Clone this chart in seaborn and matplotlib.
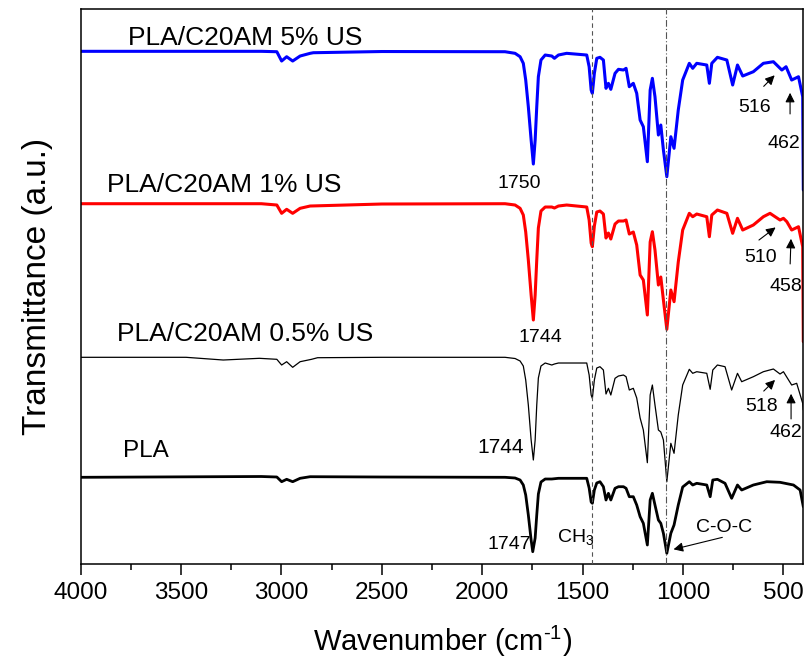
import numpy as np
import pandas as pd
import matplotlib
matplotlib.use("Agg")
import matplotlib.pyplot as plt
import seaborn as sns

# ---- data (wavenumber cm-1, transmittance a.u., spectra already offset) ----
wn_us5 = [4000, 3100, 3023, 2999, 2974, 2944, 2907, 2857, 2841, 2500, 1886, 1836, 1811, 1795,
          1783, 1770, 1756, 1745, 1736, 1728, 1720, 1707, 1686, 1653, 1640, 1620, 1579, 1479,
          1467, 1457, 1451, 1441, 1429, 1413, 1396, 1383, 1371, 1359, 1338, 1321, 1296, 1283,
          1267, 1247, 1230, 1213, 1197, 1177, 1163, 1152, 1139, 1122, 1110, 1097, 1080, 1060,
          1044, 1023, 1001, 968, 951, 931, 881, 868, 856, 828, 781, 752, 728, 702, 649, 599,
          549, 507, 486, 458, 424, 403, 400]
t_us5 = [5.487, 5.487, 5.483, 5.39, 5.433, 5.39, 5.44, 5.467, 5.473, 5.485, 5.483, 5.467, 5.433, 5.367,
         5.20, 4.933, 4.60, 4.36, 4.60, 4.933, 5.233, 5.40, 5.45, 5.44, 5.417, 5.45, 5.467, 5.45,
         5.333, 5.10, 5.067, 5.267, 5.417, 5.427, 5.40, 5.117, 5.167, 5.107, 5.267, 5.307, 5.30, 5.317,
         5.133, 5.167, 5.067, 4.80, 4.733, 4.383, 5.10, 5.217, 5.033, 4.65, 4.75, 4.50, 4.233, 4.633,
         4.517, 4.90, 5.20, 5.367, 5.317, 5.367, 5.35, 5.167, 5.367, 5.427, 5.40, 5.15, 5.35, 5.24,
         5.283, 5.367, 5.383, 5.30, 5.333, 5.20, 5.233, 5.033, 4.10]

wn_us1 = [4000, 3100, 3023, 2999, 2974, 2944, 2907, 2857, 2500, 1886, 1836, 1811, 1795, 1783,
          1770, 1756, 1745, 1736, 1728, 1720, 1707, 1686, 1653, 1640, 1620, 1579, 1479, 1467,
          1457, 1451, 1441, 1429, 1413, 1396, 1383, 1371, 1359, 1338, 1321, 1296, 1283, 1267,
          1247, 1230, 1213, 1197, 1177, 1163, 1152, 1139, 1122, 1110, 1097, 1080, 1060, 1044,
          1023, 1001, 968, 951, 931, 881, 868, 856, 828, 781, 752, 728, 702, 649, 599, 566,
          516, 499, 482, 458, 424, 403, 400]
t_us1 = [3.963, 3.963, 3.95, 3.867, 3.907, 3.867, 3.917, 3.94, 3.96, 3.963, 3.95, 3.917, 3.85, 3.68,
         3.40, 3.05, 2.80, 3.05, 3.40, 3.72, 3.89, 3.93, 3.93, 3.92, 3.94, 3.95, 3.93, 3.80,
         3.57, 3.533, 3.74, 3.88, 3.89, 3.86, 3.62, 3.67, 3.61, 3.76, 3.79, 3.79, 3.80, 3.66,
         3.68, 3.55, 3.25, 3.20, 2.85, 3.58, 3.683, 3.50, 3.15, 3.23, 3.00, 2.707, 3.10, 2.983,
         3.38, 3.70, 3.867, 3.833, 3.86, 3.833, 3.633, 3.85, 3.90, 3.867, 3.667, 3.817, 3.70, 3.75,
         3.833, 3.867, 3.80, 3.817, 3.783, 3.70, 3.733, 3.533, 2.583]

wn_us05 = [4000, 3475, 3290, 3110, 3023, 2999, 2974, 2944, 2907, 2850, 2820, 2500, 1886, 1836,
           1811, 1795, 1783, 1770, 1756, 1745, 1736, 1728, 1720, 1707, 1686, 1653, 1640, 1620,
           1579, 1479, 1467, 1457, 1451, 1441, 1429, 1413, 1396, 1383, 1371, 1359, 1338, 1321,
           1296, 1283, 1267, 1247, 1230, 1213, 1197, 1177, 1163, 1152, 1139, 1122, 1110, 1097,
           1080, 1060, 1044, 1023, 1001, 968, 951, 931, 881, 864, 851, 828, 790, 757, 728, 707,
           649, 599, 549, 516, 499, 458, 433, 403, 400]
t_us05 = [2.427, 2.427, 2.40, 2.417, 2.407, 2.35, 2.383, 2.327, 2.383, 2.407, 2.423, 2.427, 2.427, 2.415,
          2.39, 2.34, 2.20, 1.95, 1.60, 1.40, 1.60, 1.95, 2.22, 2.34, 2.37, 2.35, 2.36, 2.37,
          2.37, 2.37, 2.25, 2.05, 2.017, 2.20, 2.32, 2.333, 2.30, 2.06, 2.117, 2.05, 2.217, 2.24,
          2.25, 2.233, 2.10, 2.117, 2.02, 1.82, 1.70, 1.373, 2.05, 2.15, 1.95, 1.70, 1.68, 1.60,
          1.183, 1.567, 1.467, 1.85, 2.15, 2.307, 2.267, 2.283, 2.267, 2.107, 2.30, 2.35, 2.333, 2.10, 2.267, 2.183,
          2.233, 2.283, 2.31, 2.26, 2.283, 2.15, 2.167, 1.967, 1.90]

wn_pla = [4000, 3100, 3023, 2999, 2974, 2944, 2907, 2857, 2500, 1886, 1836, 1811, 1795, 1783,
          1770, 1756, 1748, 1736, 1728, 1720, 1707, 1686, 1653, 1620, 1479, 1467, 1457, 1451,
          1441, 1429, 1413, 1396, 1383, 1371, 1359, 1338, 1321, 1296, 1283, 1267, 1247, 1230,
          1213, 1197, 1177, 1163, 1152, 1139, 1122, 1110, 1097, 1080, 1060, 1044, 1023, 1001,
          968, 951, 931, 881, 864, 851, 828, 790, 757, 728, 707, 649, 582, 516, 449, 416, 400]
t_pla = [1.227, 1.235, 1.23, 1.183, 1.207, 1.183, 1.217, 1.233, 1.23, 1.227, 1.22, 1.20, 1.15, 1.05,
         0.85, 0.60, 0.483, 0.62, 0.85, 1.06, 1.18, 1.21, 1.21, 1.217, 1.217, 1.12, 0.98, 0.967,
         1.10, 1.17, 1.183, 1.133, 1.00, 1.067, 1.00, 1.117, 1.133, 1.133, 1.117, 1.033, 1.033, 0.95,
         0.833, 0.767, 0.55, 1.00, 1.067, 0.95, 0.80, 0.767, 0.667, 0.467, 0.667, 0.75, 0.95, 1.13,
         1.183, 1.15, 1.167, 1.15, 1.033, 1.20, 1.207, 1.167, 1.017, 1.15, 1.10, 1.15, 1.183, 1.177, 1.15, 1.10, 0.933]

series_names = ["PLA/C20AM 5% US", "PLA/C20AM 1% US", "PLA/C20AM 0.5% US", "PLA"]
series_colors = ["#0000FF", "#FF0000", "#000000", "#000000"]
series_widths = [2.2, 2.2, 0.9, 2.0]

ref_lines = [1454, 1085]

# ---- figure ----
sns.set_theme(style="ticks")
plt.rcParams["font.family"] = ["Liberation Sans", "DejaVu Sans"]
plt.rcParams["mathtext.fontset"] = "custom"
plt.rcParams["mathtext.rm"] = "Liberation Sans"
plt.rcParams["mathtext.it"] = "Liberation Sans"
for k in ["text.color", "axes.labelcolor", "xtick.color", "ytick.color", "axes.edgecolor"]:
    plt.rcParams[k] = "black"

fig = plt.figure(figsize=(8.08, 6.66), dpi=100)
ax = fig.add_axes([0.0999, 0.1527, 0.9942 - 0.0999, 0.986 - 0.1527])

all_wn = [wn_us5, wn_us1, wn_us05, wn_pla]
all_t = [t_us5, t_us1, t_us05, t_pla]
for name, w, t, c, lw in zip(series_names, all_wn, all_t, series_colors, series_widths):
    df = pd.DataFrame({"wn": w, "T": t})
    sns.lineplot(data=df, x="wn", y="T", sort=False, estimator=None, color=c,
                 linewidth=lw, ax=ax, legend=False)

ax.axvline(ref_lines[0], color="#555555", lw=0.8, ls=(0, (4, 3)), zorder=3)
ax.axvline(ref_lines[1], color="#555555", lw=0.8, ls=(0, (6, 2, 1, 2)), zorder=3)

ax.set_xlim(4000, 400)
ax.set_ylim(0.357, 5.907)
ax.set_yticks([])
ax.set_xticks([4000, 3500, 3000, 2500, 2000, 1500, 1000, 500])
ax.set_xticks(np.arange(3750, 400, -500), minor=True)
ax.tick_params(axis="x", which="major", direction="out", length=8, width=1.1,
               labelsize=17.5, pad=5, color="black", labelcolor="black")
ax.tick_params(axis="x", which="minor", direction="out", length=4.5, width=1.1, color="black")
for s in ax.spines.values():
    s.set_linewidth(1.1)
    s.set_color("black")

ax.set_xlabel(r"Wavenumber (cm$^{\text{-1}}$)", fontsize=21, labelpad=14, color="black")
ax.set_ylabel("Transmittance (a.u.)", fontsize=24, labelpad=20, color="black")

# series labels
ax.text(3764, 5.55, series_names[0], fontsize=19, ha="left", va="baseline")
ax.text(3867, 4.083, series_names[1], fontsize=19, ha="left", va="baseline")
ax.text(3821, 2.593, series_names[2], fontsize=19, ha="left", va="baseline")
ax.text(3791, 1.433, series_names[3], fontsize=17.5, ha="left", va="baseline")

# peak labels
ann = dict(fontsize=14, va="baseline", ha="center")
ax.text(1813, 4.117, "1750", **ann)
ax.text(1710, 2.583, "1744", **ann)
ax.text(1906, 1.473, "1744", fontsize=15, va="baseline", ha="center")
ax.text(1867, 0.507, "1747", **ann)
ax.text(1628, 0.583, "CH$_3$", fontsize=14, va="baseline", ha="left")
ax.text(796, 0.683, "C-O-C", **ann)
ax.text(645, 4.883, "516", **ann)
ax.text(499, 4.523, "462", **ann)
ax.text(615, 3.383, "510", **ann)
ax.text(489, 3.093, "458", **ann)
ax.text(607, 1.893, "518", **ann)
ax.text(489, 1.633, "462", **ann)

arr = dict(arrowstyle="-|>", color="black", lw=0.8, mutation_scale=14)
arrows = [((607, 5.117), (533, 5.267)),
          ((466, 4.833), (466, 5.10)),
          ((632, 3.583), (527, 3.743)),
          ((466, 3.333), (461, 3.64)),
          ((607, 2.07), (531, 2.22)),
          ((461, 1.783), (461, 2.09)),
          ((790, 0.633), (1060, 0.50))]
for tail, head in arrows:
    ax.annotate("", xy=head, xytext=tail, arrowprops=arr)

fig.savefig("out.png", dpi=100)
